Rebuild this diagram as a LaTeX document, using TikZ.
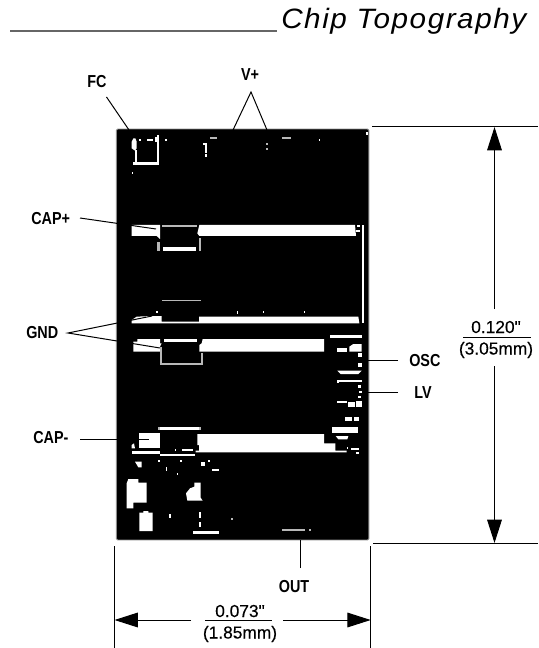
\documentclass[tikz,border=0pt]{standalone}
\usepackage{fontspec}
\usetikzlibrary{arrows.meta}
\setmainfont{Liberation Sans}
\newfontfamily\labfont[FakeStretch=0.83]{Liberation Sans}
\newfontfamily\dimfont[FakeBold=0.35]{Liberation Sans}
\newfontfamily\titlefont[FakeStretch=1.06,LetterSpace=5.5]{Liberation Sans}
\newcommand\Rw[4]{\fill[white] (#1,#2) rectangle (#3,#4);}
\newcommand\Rg[4]{\fill[black!28] (#1,#2) rectangle (#3,#4);}
\tikzset{
  lab/.style={inner sep=0pt,font=\labfont\bfseries\fontsize{13}{15}\selectfont},
  dimtext/.style={inner sep=0pt,anchor=base,font=\dimfont\fontsize{13}{15}\selectfont},
  conn/.style={draw=black,line width=.75pt},
  bigtip/.style={conn,-{Triangle[length=17.5pt,width=11pt]}},
  chipbody/.style={fill=black,draw=black!45,line width=.7pt,inner sep=0pt,rounded corners=1pt}
}
\begin{document}
\begin{tikzpicture}[x=.75pt,y=-.75pt]
\useasboundingbox (0,0) rectangle (538,648);
\node[inner sep=0pt,anchor=base west,font=\titlefont\itshape\fontsize{21}{24}\selectfont] (title) at (281,29) {Chip Topography};
\coordinate (ruleL) at (10,31); \coordinate (ruleR) at (277,31);
\draw[draw=black!60,line width=.8pt] (ruleL) -- (ruleR);
% chip
\node[chipbody,minimum width=189.4pt,minimum height=308.2pt] (chip) at (242.6,334.5) {};
% upper part
\begin{scope}[shift={(100,120)},x=.25pt,y=-.25pt]
\Rw{172}{45}{178}{135}\Rw{100}{125}{178}{135}\Rw{106}{90}{111}{125}
\fill[white] (100,55)--(106,55)--(110,65)--(110,85)--(105,92)--(95,85)--(95,65)--cycle;
\Rw{117}{57}{123}{63}\Rw{140}{57}{158}{63}\Rw{166}{52}{172}{65}\Rw{196}{57}{202}{63}\Rw{95}{157}{100}{163}
\Rg{330}{50}{352}{57}\Rg{545}{50}{572}{57}\Rw{656}{57}{660}{63}
\Rw{310}{70}{320}{76}\Rw{315}{70}{321}{98}\Rw{314}{103}{320}{112}
\Rg{499}{68}{505}{74}\Rg{499}{85}{505}{91}\Rw{797}{35}{803}{45}
% CAP+ bar
\fill[white] (95,315)--(180,315)--(180,357)--(170,348)--(95,348)--cycle;
\Rg{185}{315}{292}{320}
\fill[white] (298,315)--(765,315)--(768,348)--(298,348)--(292,340)--cycle;
\Rg{172}{365}{179}{392}\Rw{190}{382}{287}{392}\Rg{296}{355}{302}{392}
\Rw{772}{315}{780}{320}\Rw{768}{330}{780}{336}\Rw{785}{315}{791}{610}
\Rg{185}{539}{302}{544}\Rw{167}{573}{173}{580}\Rw{410}{572}{415}{583}\Rw{488}{572}{493}{578}\Rw{611}{572}{616}{578}
% long bar
\fill[white] (95,600)--(110,590)--(155,588)--(185,588)--(185,605)--(297,605)--(297,590)--(775,590)--(778,610)--(95,610)--cycle;
\end{scope}
% lower part
\begin{scope}[shift={(100,330)},x=.25pt,y=-.25pt]
\fill[white] (100,35)--(112,35)--(112,27)--(180,27)--(180,40)--(185,40)--(180,50)--(180,65)--(100,65)--cycle;
\Rw{192}{27}{292}{37}
\Rg{180}{50}{185}{104}\Rg{180}{98}{308}{104}\Rg{303}{70}{308}{104}
\fill[white] (308,27)--(672,27)--(672,65)--(298,65)--(298,45)--(305,40)--cycle;
\Rw{690}{14}{785}{25}\Rw{712}{55}{740}{65}
\fill[white] (748,50)--(760,42)--(785,42)--(785,65)--(748,65)--cycle;
\Rw{775}{70}{785}{80}\Rw{775}{98}{785}{110}
\fill[white] (712,122)--(785,122)--(775,132)--(722,132)--cycle;
\Rw{712}{150}{785}{156}\Rw{712}{150}{717}{160}
\Rw{775}{165}{783}{175}\Rw{778}{182}{785}{190}\Rw{775}{198}{783}{205}
\Rw{712}{213}{740}{220}\Rw{745}{215}{765}{232}\Rw{768}{213}{785}{232}
\Rw{735}{262}{755}{272}\Rw{762}{262}{778}{272}
\Rw{695}{290}{773}{310}\fill[white] (707,318)--(745,318)--(742,328)--(715,328)--cycle;
% CAP- bar
\fill[white] (292,312)--(672,312)--(672,340)--(706,340)--(706,362)--(740,362)--(740,367)--(287,367)--(287,362)--(297,362)--(297,345)--(292,345)--cycle;
\Rw{118}{310}{180}{355}\fill[white] (95,345)--(102,340)--(105,355)--(95,355)--cycle;
\Rw{95}{362}{180}{373}\Rw{180}{373}{285}{379}
\Rw{180}{290}{298}{300}\Rg{175}{290}{180}{300}\Rg{298}{290}{302}{300}
\Rw{245}{356}{280}{362}\Rw{224}{356}{229}{362}\Rw{740}{350}{745}{356}\Rw{752}{355}{778}{360}\Rw{768}{367}{778}{373}
% scattered pads
\fill[white] (105,395)--(125,395)--(125,412)--(115,412)--cycle;
\Rw{173}{390}{179}{396}\Rw{240}{390}{246}{396}\Rw{302}{395}{314}{407}\Rw{325}{390}{330}{396}
\Rw{197}{412}{202}{424}\Rw{230}{428}{235}{434}\Rw{336}{418}{358}{424}
\fill[white] (85,447)--(115,447)--(115,458)--(140,458)--(140,518)--(100,518)--(100,535)--(80,535)--(80,460)--cycle;
\fill[white] (283,458)--(302,458)--(302,503)--(308,512)--(262,512)--(258,490)--(270,475)--(283,470)--cycle;
\fill[white] (118,548)--(130,548)--(130,543)--(145,543)--(145,548)--(158,548)--(158,603)--(118,603)--cycle;
\Rw{207}{553}{213}{563}\Rw{297}{547}{303}{563}\Rw{297}{575}{303}{592}\Rg{392}{563}{398}{569}
\Rw{280}{603}{358}{613}\Rg{545}{597}{615}{603}\Rg{628}{597}{634}{603}
\end{scope}
% pin labels
\node[lab,anchor=base] (fc) at (97,88) {FC};
\node[lab,anchor=base] (vp) at (250,81) {V+};
\node[lab,anchor=west] (capp) at (31,219) {CAP+};
\node[lab,anchor=west] (gnd) at (26,333) {GND};
\node[lab,anchor=west] (capm) at (33,438) {CAP-};
\node[lab,anchor=west] (osc) at (409,361) {OSC};
\node[lab,anchor=west] (lv) at (414,393) {LV};
\node[lab,anchor=base] (out) at (294,592) {OUT};
% pin ends
\coordinate (fcA) at (106.5,97); \coordinate (fcB) at (129,130);
\coordinate (vpA) at (251,92); \coordinate (vpB) at (233,130); \coordinate (vpC) at (267,130);
\coordinate (cappA) at (80,218); \coordinate (cappB) at (156,229);
\coordinate (gndA) at (68,333); \coordinate (gndB) at (152,316); \coordinate (gndC) at (160,348);
\coordinate (capmA) at (80,439); \coordinate (capmB) at (149,439);
\coordinate (oscA) at (398,360); \coordinate (oscB) at (368,360);
\coordinate (lvA) at (398,392); \coordinate (lvB) at (368,392);
\coordinate (outA) at (300.7,568); \coordinate (outB) at (300.7,540);
\draw[conn] (fcA) -- (fcB);
\draw[conn] (vpB) -- (vpA) -- (vpC);
\draw[conn] (cappA) -- (cappB);
\draw[conn] (gndB) -- (gndA) -- (gndC);
\draw[conn] (capmA) -- (capmB);
\draw[conn] (oscA) -- (oscB);
\draw[conn] (lvA) -- (lvB);
\draw[conn] (outA) -- (outB);
% height dimension
\coordinate (eTL) at (372,127); \coordinate (eTR) at (538,127);
\coordinate (eBL) at (373,543); \coordinate (eBR) at (538,543);
\draw[conn] (eTL) -- (eTR);
\draw[conn] (eBL) -- (eBR);
\node[dimtext] (h1) at (496,333) {0.120"};
\node[dimtext] (h2) at (496,354.5) {(3.05mm)};
\coordinate (hrL) at (463,337); \coordinate (hrR) at (531,337);
\draw[conn] (hrL) -- (hrR);
\coordinate (hT) at (494.5,127); \coordinate (hTs) at (494.5,309);
\coordinate (hB) at (494.5,543); \coordinate (hBs) at (494.5,366);
\draw[bigtip] (hTs) -- (hT);
\draw[bigtip] (hBs) -- (hB);
% width dimension
\coordinate (eLt) at (114.5,546); \coordinate (eLb) at (114.5,648);
\coordinate (eRt) at (370.7,546); \coordinate (eRb) at (370.7,648);
\draw[conn] (eLt) -- (eLb);
\draw[conn] (eRt) -- (eRb);
\node[dimtext] (w1) at (240,617) {0.073"};
\node[dimtext] (w2) at (240,638.5) {(1.85mm)};
\coordinate (wrL) at (205,620); \coordinate (wrR) at (272,620);
\draw[conn] (wrL) -- (wrR);
\coordinate (wL) at (114.5,620); \coordinate (wLs) at (191,620);
\coordinate (wR) at (370.7,620); \coordinate (wRs) at (283,620);
\draw[bigtip] (wLs) -- (wL);
\draw[bigtip] (wRs) -- (wR);
\end{tikzpicture}
\end{document}
